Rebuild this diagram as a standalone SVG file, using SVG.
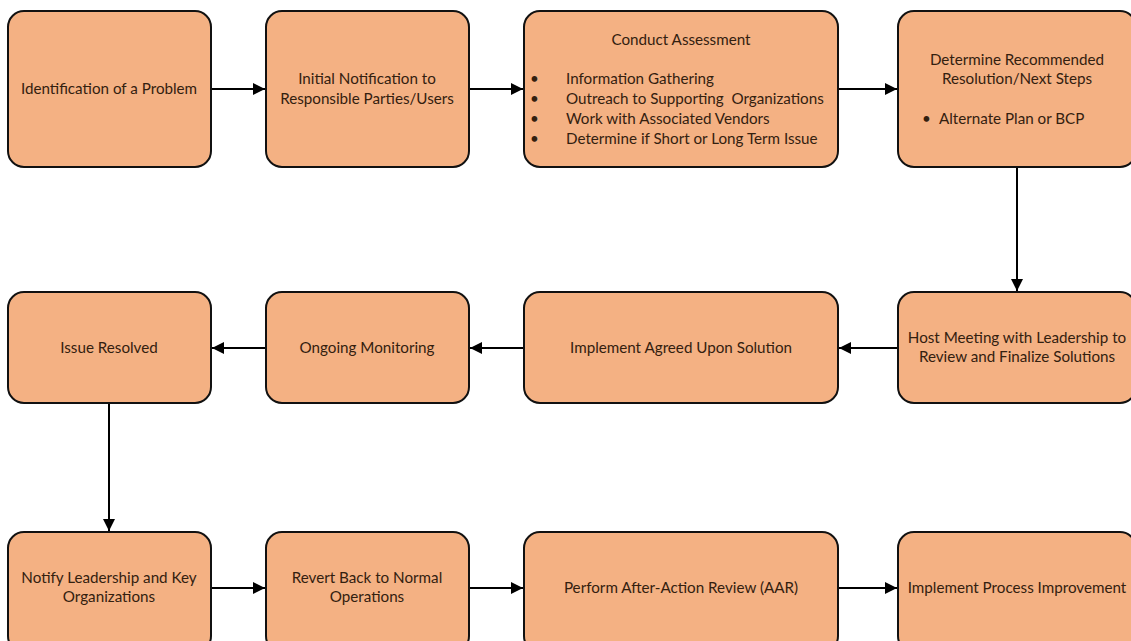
<svg xmlns="http://www.w3.org/2000/svg" width="1131" height="641" viewBox="0 0 1131 641">
  <style>
    .box { fill: #f4b183; stroke: #111; stroke-width: 2; }
    .t { font-family: Lato, "Liberation Sans", sans-serif; font-size: 15.2px; fill: #33200f; }
    .c { text-anchor: middle; }
    .pre { white-space: pre; }
    .link { stroke: #000; stroke-width: 2; fill: none; marker-end: url(#arrow); }
  </style>
  <defs>
    <marker id="arrow" viewBox="0 0 10 10" refX="10" refY="5" markerWidth="6" markerHeight="6" markerUnits="strokeWidth" orient="auto">
      <path d="M0,0 L10,5 L0,10 z" fill="#000"/>
    </marker>
  </defs>
  <rect width="1131" height="641" fill="#fff"/>

  <!-- connectors -->
  <g id="connectors">
    <line class="link" x1="211" y1="89" x2="265" y2="89"/>
    <line class="link" x1="469" y1="89" x2="523" y2="89"/>
    <line class="link" x1="838" y1="89" x2="897" y2="89"/>
    <line class="link" x1="1017" y1="167" x2="1017" y2="291"/>
    <line class="link" x1="898" y1="348" x2="839" y2="348"/>
    <line class="link" x1="524" y1="348" x2="470" y2="348"/>
    <line class="link" x1="266" y1="348" x2="212" y2="348"/>
    <line class="link" x1="109" y1="403" x2="109" y2="531"/>
    <line class="link" x1="211" y1="588" x2="265" y2="588"/>
    <line class="link" x1="469" y1="588" x2="523" y2="588"/>
    <line class="link" x1="838" y1="588" x2="897" y2="588"/>
  </g>

  <!-- row 1 -->
  <g id="identify">
    <rect class="box" x="8" y="11" width="203" height="156" rx="16"/>
    <text class="t c" x="109" y="94">Identification of a Problem</text>
  </g>
  <g id="notify-initial">
    <rect class="box" x="266" y="11" width="203" height="156" rx="16"/>
    <text class="t c" x="367" y="84">Initial Notification to</text>
    <text class="t c" x="367" y="104">Responsible Parties/Users</text>
  </g>
  <g id="assessment">
    <rect class="box" x="524" y="11" width="314" height="156" rx="16"/>
    <text class="t c" x="681" y="45">Conduct Assessment</text>
    <text class="t" x="530" y="84">•</text>
    <text class="t" x="530" y="104">•</text>
    <text class="t" x="530" y="124">•</text>
    <text class="t" x="530" y="144">•</text>
    <text class="t" x="566" y="84">Information Gathering</text>
    <text class="t pre" x="566" y="104">Outreach to Supporting  Organizations</text>
    <text class="t" x="566" y="124">Work with Associated Vendors</text>
    <text class="t" x="566" y="144">Determine if Short or Long Term Issue</text>
  </g>
  <g id="recommend">
    <rect class="box" x="898" y="11" width="238" height="156" rx="16"/>
    <text class="t c" x="1017" y="65">Determine Recommended</text>
    <text class="t c" x="1017" y="84">Resolution/Next Steps</text>
    <text class="t" x="922" y="124">•</text>
    <text class="t" x="939" y="124">Alternate Plan or BCP</text>
  </g>

  <!-- row 2 -->
  <g id="resolved">
    <rect class="box" x="8" y="292" width="203" height="111" rx="16"/>
    <text class="t c" x="109" y="353">Issue Resolved</text>
  </g>
  <g id="monitoring">
    <rect class="box" x="266" y="292" width="203" height="111" rx="16"/>
    <text class="t c" x="367" y="353">Ongoing Monitoring</text>
  </g>
  <g id="implement-solution">
    <rect class="box" x="524" y="292" width="314" height="111" rx="16"/>
    <text class="t c" x="681" y="353">Implement Agreed Upon Solution</text>
  </g>
  <g id="leadership-meeting">
    <rect class="box" x="898" y="292" width="238" height="111" rx="16"/>
    <text class="t c" x="1017" y="343">Host Meeting with Leadership to</text>
    <text class="t c" x="1017" y="362">Review and Finalize Solutions</text>
  </g>

  <!-- row 3 -->
  <g id="notify-leadership">
    <rect class="box" x="8" y="532" width="203" height="120" rx="16"/>
    <text class="t c" x="109" y="583">Notify Leadership and Key</text>
    <text class="t c" x="109" y="602">Organizations</text>
  </g>
  <g id="revert">
    <rect class="box" x="266" y="532" width="203" height="120" rx="16"/>
    <text class="t c" x="367" y="583">Revert Back to Normal</text>
    <text class="t c" x="367" y="602">Operations</text>
  </g>
  <g id="aar">
    <rect class="box" x="524" y="532" width="314" height="120" rx="16"/>
    <text class="t c" x="681" y="593">Perform After-Action Review (AAR)</text>
  </g>
  <g id="improvement">
    <rect class="box" x="898" y="532" width="238" height="120" rx="16"/>
    <text class="t c" x="1017" y="593">Implement Process Improvement</text>
  </g>
</svg>
